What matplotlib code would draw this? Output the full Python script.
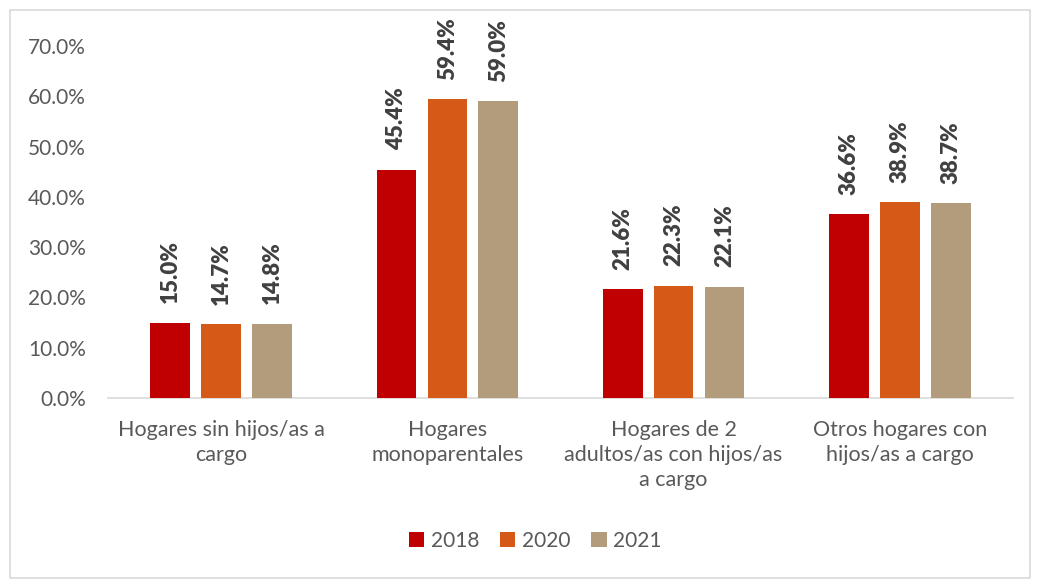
import matplotlib
matplotlib.use("Agg")
import matplotlib.pyplot as plt
import numpy as np
from matplotlib.patches import Rectangle

categories = ["Hogares sin hijos/as a\ncargo", "Hogares\nmonoparentales",
              "Hogares de 2\nadultos/as con hijos/as\na cargo", "Otros hogares con\nhijos/as a cargo"]
series_names = ["2018", "2020", "2021"]
v2018 = [15.0, 45.4, 21.6, 36.6]
v2020 = [14.7, 59.4, 22.3, 38.9]
v2021 = [14.8, 59.0, 22.1, 38.7]
colors = ["#C00000", "#D55A18", "#B29C7C"]
yticks = [0, 10, 20, 30, 40, 50, 60, 70]

plt.rcParams['font.family'] = ['Lato', 'DejaVu Sans']
txt = "#595959"

fig = plt.figure(figsize=(10.37, 5.81), dpi=100)
ax = fig.add_axes([108/1037, 1 - 398/581, 905/1037, (398 - 46)/581])

x = np.arange(len(categories))
width = 0.175
step = 0.225
for i, (name, vals) in enumerate(zip(series_names, [v2018, v2020, v2021])):
    pos = x + (i - 1) * step
    ax.bar(pos, vals, width, color=colors[i], label=name, zorder=3)
    for p, v in zip(pos, vals):
        ax.annotate(f"{v:.1f}%", (p, v), xytext=(0, 14), textcoords="offset points",
                    rotation=90, ha="center", va="bottom", fontsize=16,
                    fontweight="heavy", color="#404040")

ax.set_xlim(-0.5, len(categories) - 0.5)
ax.set_ylim(0, 70)
ax.set_yticks(yticks)
ax.set_yticklabels([f"{t:.1f}%" for t in yticks], fontsize=15, color=txt)
ax.set_xticks(x)
ax.set_xticklabels(categories, fontsize=15.5, color=txt, linespacing=1.3)
ax.tick_params(axis="both", length=0)
ax.tick_params(axis="x", pad=16)
ax.tick_params(axis="y", pad=16)
for s in ["top", "right", "left"]:
    ax.spines[s].set_visible(False)
ax.spines["bottom"].set_color("#D9D9D9")
ax.spines["bottom"].set_linewidth(1.2)

leg = fig.legend(loc="center", bbox_to_anchor=(535/1037, 1 - 541/581), ncol=3,
                 frameon=False, fontsize=15, handlelength=0.75, handleheight=0.75,
                 handletextpad=0.3, columnspacing=1.0)
for t in leg.get_texts():
    t.set_color(txt)

fig.patches.append(Rectangle((10/1037, 3/581), 1020/1037, 568/581, transform=fig.transFigure,
                             fill=False, edgecolor="#D9D9D9", linewidth=1.2))

fig.savefig("out.png", dpi=100)
